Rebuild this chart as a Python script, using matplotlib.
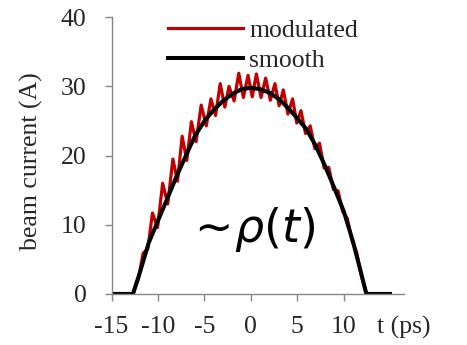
import matplotlib
matplotlib.use("Agg")
import matplotlib.pyplot as plt

# smooth bunch profile (ps, A)
t_smooth = [-15, -12.7, -12, -11, -10, -9, -8, -7, -6, -5, -4, -3, -2, -1, 0,
            1, 2, 3, 4, 5, 6, 7, 8, 9, 10, 11, 12, 12.45, 15]
i_smooth = [0, 0, 2.9, 7.4, 10.6, 13.8, 17.0, 20.0, 22.9, 25.0, 26.6, 27.9, 28.9, 29.6, 29.8,
            29.6, 29.1, 28.2, 26.9, 25.4, 23.8, 21.4, 18.5, 15.3, 12.0, 7.6, 2.4, 0, 0]

# modulated profile, peaks / troughs
t_mod = [-15, -12.7, -12.1, -11.6, -11.1, -10.6, -10.05, -9.5, -8.95, -8.4, -7.9, -7.4,
         -6.9, -6.4, -5.9, -5.35, -4.8, -4.3, -3.8, -3.3, -2.8, -2.35, -1.8, -1.3,
         -0.8, -0.3, 0.15, 0.6, 1.1, 1.6, 2.1, 2.6, 3.05, 3.5, 4.0, 4.5, 4.95, 5.4,
         5.9, 6.4, 6.9, 7.4, 7.9, 8.4, 8.9, 9.4, 9.9, 10.4, 10.9, 11.4, 11.9, 12.45, 15]
i_mod = [0, 0, 2.3, 5.9, 6.5, 11.7, 9.6, 16.0, 13.0, 19.5, 16.3, 22.8,
         19.3, 24.9, 22.0, 27.3, 24.3, 28.2, 25.8, 30.4, 27.0, 30.0, 27.9, 31.9,
         28.4, 31.6, 28.5, 31.8, 28.4, 31.2, 28.0, 30.4, 27.2, 29.5, 26.0, 28.2, 24.7, 26.5,
         23.2, 24.3, 21.0, 21.8, 18.2, 18.3, 15.1, 14.9, 11.9, 10.9, 7.7, 6.0, 2.7, 0, 0]

x_ticks = [-15, -10, -5, 0, 5, 10]
y_ticks = [0, 10, 20, 30, 40]

plt.rcParams['font.family'] = ['Liberation Serif', 'DejaVu Serif']
plt.rcParams['mathtext.fontset'] = 'dejavusans'
fs = 18.5
grey = '#868686'
txt = '#262626'

fig = plt.figure(figsize=(4.67, 3.45), dpi=100)
ax = fig.add_axes([0.239, 0.148, 0.626, 0.802])

ax.plot(t_mod, i_mod, color='#C00000', lw=2.3, label='modulated')
ax.plot(t_smooth, i_smooth, color='black', lw=2.9, label='smooth')

ax.set_xlim(-15, 15)
ax.set_ylim(0, 40)
ax.set_xticks(x_ticks + [16.5])
ax.set_xticklabels([str(v) for v in x_ticks] + ['t (ps)'])
ax.xaxis.get_major_ticks()[-1].tick1line.set_visible(False)
ax.set_yticks(y_ticks)

for s in ['top', 'right']:
    ax.spines[s].set_visible(False)
for s in ['left', 'bottom']:
    ax.spines[s].set_color(grey)
    ax.spines[s].set_linewidth(1.0)
ax.tick_params(axis='both', direction='out', length=5, width=1.0, color=grey,
               labelsize=fs, labelcolor=txt)
ax.tick_params(axis='y', pad=13)
ax.tick_params(axis='x', pad=11)

ax.set_ylabel('beam current (A)', fontsize=fs, color=txt, labelpad=2)
ax.yaxis.set_label_coords(-0.235, 0.48)

ax.text(0.05, 9.3, r'${\sim}\!\rho(t)$', fontsize=33, ha='center', va='center', color='black')

leg = ax.legend(loc='upper left', bbox_to_anchor=(168 / 467, 1 - 19 / 345),
                bbox_transform=fig.transFigure, frameon=False, fontsize=fs,
                handlelength=2.9, handletextpad=0.27, borderpad=0, borderaxespad=0,
                labelspacing=0.28)
for t in leg.get_texts():
    t.set_color(txt)

fig.savefig('out.png', dpi=100)
